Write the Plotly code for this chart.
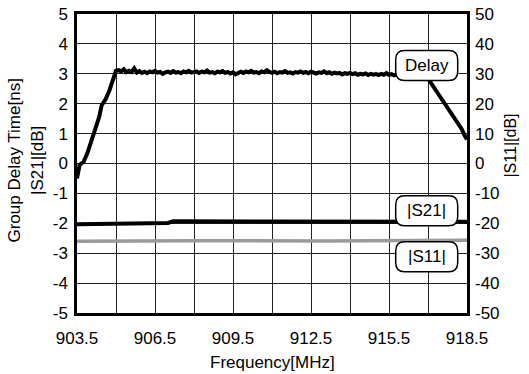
import numpy as np
import plotly.graph_objects as go

# ---- data ----
rise_freq = [903.5, 903.55, 903.6, 903.75, 903.9, 904.05, 904.2, 904.35, 904.45, 904.6, 904.75, 904.9, 905.0]
rise_delay = [-0.5, -0.25, -0.05, 0.05, 0.35, 0.75, 1.15, 1.55, 1.95, 2.15, 2.45, 2.8, 3.1]

flat_freq = list(np.round(np.arange(905.1, 916.95, 0.1), 1))
flat_delay = [
    3.12, 3.08, 3.15, 3.05, 3.10, 3.06, 3.18, 3.04, 3.09, 3.03,
    3.07, 3.02, 3.08, 3.05, 3.10, 3.04, 3.06, 3.00, 3.05, 3.07,
    3.03, 3.09, 3.04, 3.06, 3.02, 3.08, 3.05, 3.10, 3.04, 3.06,
    3.08, 3.03, 3.07, 3.05, 3.11, 3.04, 3.06, 3.02, 3.07, 3.05,
    3.09, 3.03, 3.06, 3.01, 3.05, 2.98, 3.04, 3.07, 3.03, 3.08,
    3.05, 3.10, 3.04, 3.06, 3.02, 3.08, 3.05, 3.12, 3.06, 3.03,
    3.07, 3.02, 3.06, 3.04, 3.09, 3.03, 3.05, 3.01, 3.06, 3.04,
    3.08, 3.03, 3.06, 3.02, 3.07, 3.04, 3.01, 3.05, 3.03, 3.08,
    3.02, 3.05, 3.00, 3.04, 3.01, 3.03, 2.98, 3.02, 3.00, 3.03,
    2.99, 3.02, 2.97, 3.00, 2.98, 3.01, 2.96, 3.00, 2.97, 2.99,
    2.96, 3.00, 2.97, 3.02, 2.96, 2.99, 2.95, 2.98, 2.94, 2.97,
    2.95, 2.92, 2.96, 2.90, 2.88, 2.93, 2.90, 2.92, 2.89,
]

drop_freq = [917.0, 917.3, 917.6, 917.9, 918.1, 918.3, 918.4, 918.5]
drop_delay = [2.85, 2.45, 2.05, 1.65, 1.4, 1.15, 0.95, 0.8]

s21_freq = [903.5, 904.9, 905.2, 907.0, 907.2, 912.0, 918.5]
s21_db = [-2.03, -2.02, -1.99, -1.99, -1.93, -1.93, -1.95]

s11_freq = [903.5, 908.0, 913.0, 918.5]
s11_db = [-26.0, -25.8, -25.9, -25.7]

x_ticks = [903.5, 906.5, 909.5, 912.5, 915.5, 918.5]
x_minor = [905.0, 908.0, 911.0, 914.0, 917.0]
y_left_ticks = [-5, -4, -3, -2, -1, 0, 1, 2, 3, 4, 5]
y_right_ticks = [-50, -40, -30, -20, -10, 0, 10, 20, 30, 40, 50]
labels = ["Delay", "|S21|", "|S11|"]
label_x = [916.95, 916.95, 916.95]
label_y = [3.28, -1.58, -3.12]

delay_freq = rise_freq + flat_freq + drop_freq
delay_vals = rise_delay + flat_delay + drop_delay

FONT = "Liberation Sans, Arial, sans-serif"

fig = go.Figure()
fig.add_trace(go.Scatter(x=s11_freq, y=s11_db, yaxis="y2", mode="lines",
                         line=dict(color="#9a9a9a", width=3.5), showlegend=False))
fig.add_trace(go.Scatter(x=s21_freq, y=s21_db, mode="lines",
                         line=dict(color="black", width=4), showlegend=False))
fig.add_trace(go.Scatter(x=delay_freq, y=delay_vals, mode="lines",
                         line=dict(color="black", width=4), showlegend=False))

# rounded label boxes
w, h, r = 62, 30, 9
path = (f"M {-w/2+r},{-h/2} L {w/2-r},{-h/2} Q {w/2},{-h/2} {w/2},{-h/2+r} "
        f"L {w/2},{h/2-r} Q {w/2},{h/2} {w/2-r},{h/2} L {-w/2+r},{h/2} "
        f"Q {-w/2},{h/2} {-w/2},{h/2-r} L {-w/2},{-h/2+r} Q {-w/2},{-h/2} {-w/2+r},{-h/2} Z")
for t, lx, ly in zip(labels, label_x, label_y):
    fig.add_shape(type="path", xref="x", yref="y", xsizemode="pixel", ysizemode="pixel",
                  xanchor=lx, yanchor=ly, path=path,
                  line=dict(color="black", width=1.5), fillcolor="white", layer="above")
    fig.add_annotation(x=lx, y=ly, xref="x", yref="y", text=t, showarrow=False,
                       font=dict(size=17, color="black", family=FONT))

# axis titles
fig.add_annotation(xref="paper", yref="paper", x=0, y=0.51, xanchor="center", yanchor="middle",
                   xshift=-51, textangle=-90, showarrow=False,
                   text="Group Delay Time[ns]<br>|S21|[dB]", font=dict(size=17))
fig.add_annotation(xref="paper", yref="paper", x=1, y=0.56, xanchor="center", yanchor="middle",
                   xshift=44, textangle=-90, showarrow=False,
                   text="|S11|[dB]", font=dict(size=16))
fig.add_annotation(xref="paper", yref="paper", x=0.5, y=0, xanchor="center", yanchor="middle",
                   yshift=-49, showarrow=False,
                   text="Frequency[MHz]", font=dict(size=17))

fig.update_layout(
    width=529, height=374,
    margin=dict(l=77, r=62, t=14, b=61),
    paper_bgcolor="white", plot_bgcolor="white",
    font=dict(family=FONT, size=17, color="black"),
    xaxis=dict(range=[903.5, 918.5], tickvals=x_ticks, ticktext=[f"{v:.1f}" for v in x_ticks],
               showgrid=True, gridcolor="#222", gridwidth=1,
               minor=dict(tickvals=x_minor, showgrid=True, gridcolor="#222", gridwidth=1),
               showline=True, linecolor="black", linewidth=2.5, mirror=True,
               ticks="", zeroline=False, ticklabelstandoff=8, automargin=False),
    yaxis=dict(range=[-5, 5], tickvals=y_left_ticks, ticktext=[str(v) for v in y_left_ticks],
               showgrid=True, gridcolor="#222", gridwidth=1,
               showline=True, linecolor="black", linewidth=2.5, mirror=True,
               ticks="", zeroline=False, ticklabelstandoff=3, automargin=False),
    yaxis2=dict(range=[-50, 50], tickvals=y_right_ticks, ticktext=[str(v) for v in y_right_ticks],
                overlaying="y", side="right",
                showgrid=False, zeroline=False, ticks="", ticklabelstandoff=7, automargin=False),
)

# remove the page's default body margin so the figure sits at the window's corner
fig.write_html("out.html", config={"displayModeBar": False},
               post_script="document.body.style.margin='0';document.body.style.overflow='hidden';")
